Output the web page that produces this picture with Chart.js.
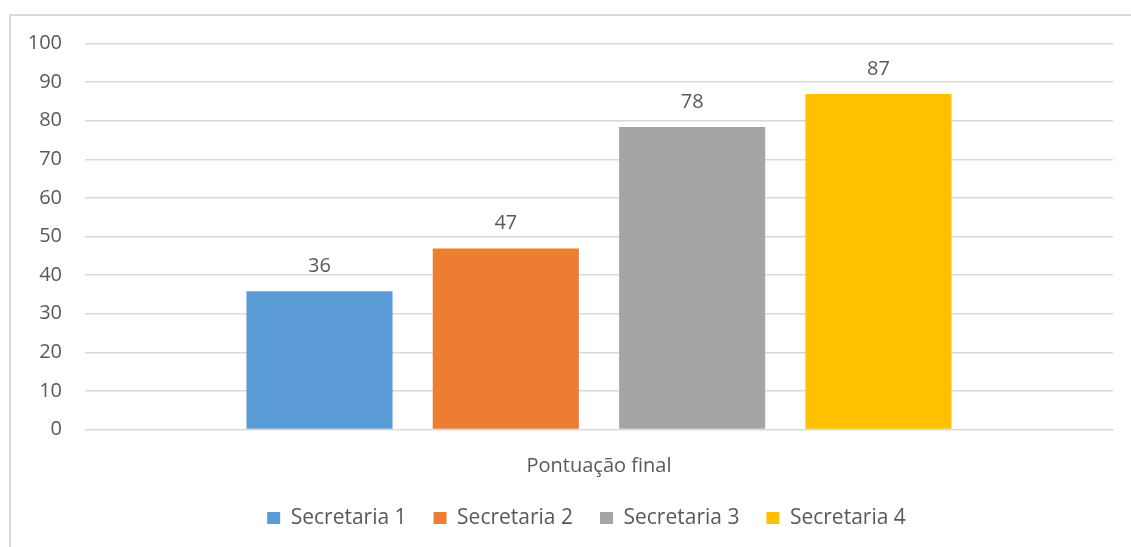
<!DOCTYPE html>
<html>
<head>
<meta charset="utf-8">
<script src="https://cdn.jsdelivr.net/npm/chart.js@4/dist/chart.umd.min.js"></script>
<style>
  body { margin: 0; background: #fff; }
  .wrap { position: relative; width: 1131px; height: 547px; overflow: hidden; }
</style>
</head>
<body>
<div class="wrap"><canvas id="myChart" width="1131" height="547"></canvas></div>
<script>
var categories = ['Pontuação final'];
var seriesNames = ['Secretaria 1', 'Secretaria 2', 'Secretaria 3', 'Secretaria 4'];
var seriesValues = [35.8, 46.9, 78.4, 86.9];
var seriesColors = ['#5B9BD5', '#ED7D31', '#A5A5A5', '#FFC000'];
var yTicks = [0, 10, 20, 30, 40, 50, 60, 70, 80, 90, 100];

var textColor = '#595959';
var gridColor = '#d9d9d9';

// frame around the chart, like the excel chart border
var framePlugin = {
  id: 'frame',
  beforeDraw: function(chart) {
    var ctx = chart.ctx;
    ctx.save();
    ctx.strokeStyle = '#d9d9d9';
    ctx.lineWidth = 2;
    ctx.strokeRect(10, 15, 1200, 600);
    ctx.restore();
  }
};

// legend sits a bit right of the canvas centre in the original
var legendShift = {
  id: 'legendShift',
  afterLayout: function(chart) {
    if (chart.legend) {
      chart.legend.left += 30;
      chart.legend.right += 30;
    }
  }
};

// value labels above the bars
var valueLabels = {
  id: 'valueLabels',
  afterDatasetsDraw: function(chart) {
    var ctx = chart.ctx;
    ctx.save();
    ctx.font = '20px "Open Sans"';
    ctx.fillStyle = textColor;
    ctx.textAlign = 'center';
    ctx.textBaseline = 'alphabetic';
    chart.data.datasets.forEach(function(ds, i) {
      var meta = chart.getDatasetMeta(i);
      meta.data.forEach(function(bar, j) {
        ctx.fillText(Math.round(ds.data[j]), bar.x, bar.y - 19);
      });
    });
    ctx.restore();
  }
};

var datasets = seriesNames.map(function(name, i) {
  return {
    label: name,
    data: [seriesValues[i]],
    backgroundColor: seriesColors[i],
    borderWidth: 0,
    barPercentage: 0.784,
    categoryPercentage: 0.725
  };
});

var ctx = document.getElementById('myChart').getContext('2d');
var myChart = new Chart(ctx, {
  type: 'bar',
  data: {
    labels: categories,
    datasets: datasets
  },
  options: {
    responsive: false,
    animation: false,
    layout: { padding: { left: 0, right: 18, top: 43.5, bottom: 8.5 } },
    plugins: {
      tooltip: { enabled: false },
      legend: {
        position: 'bottom',
        labels: {
          boxWidth: 13,
          boxHeight: 12,
          padding: 27,
          color: textColor,
          font: { family: '"Open Sans"', size: 21 }
        }
      }
    },
    scales: {
      x: {
        grid: { display: false },
        border: { display: true, color: gridColor },
        ticks: {
          color: textColor,
          padding: 17,
          font: { family: '"Open Sans"', size: 20 }
        },
        afterFit: function(scale) { scale.height = 51; }
      },
      y: {
        min: 0,
        max: 100,
        afterBuildTicks: function(scale) {
          scale.ticks = yTicks.map(function(v) { return { value: v }; });
        },
        grid: { color: gridColor, drawTicks: false, lineWidth: 1.5 },
        border: { display: false },
        ticks: {
          color: textColor,
          padding: 23,
          font: { family: '"Open Sans"', size: 20 }
        },
        afterFit: function(scale) { scale.width = 85; }
      }
    }
  },
  plugins: [framePlugin, legendShift, valueLabels]
});
</script>
</body>
</html>
